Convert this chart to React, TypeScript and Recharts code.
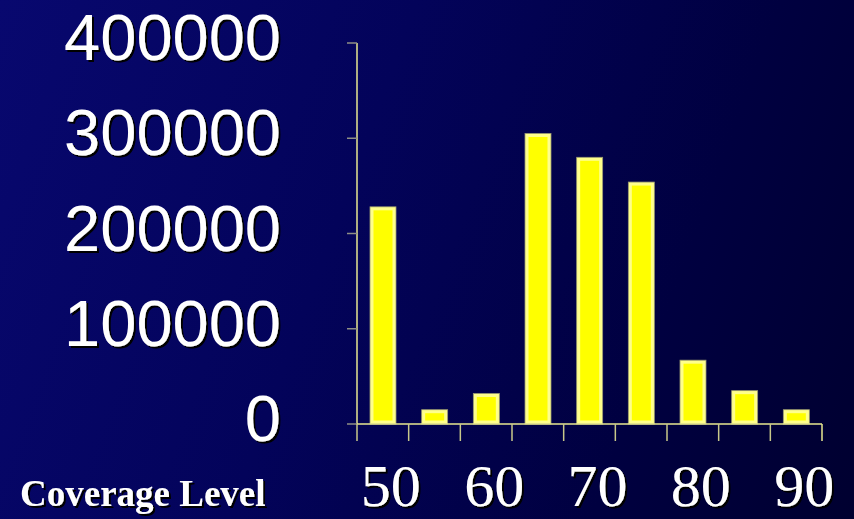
import { Bar, BarChart, XAxis, YAxis } from 'recharts';

const coverageLevels = ['50', '55', '60', '65', '70', '75', '80', '85', '90'];
const counts = [228000, 15000, 32000, 305000, 280000, 254000, 67000, 35000, 15000];
const yTicks = [0, 100000, 200000, 300000, 400000];
const labeledLevels = ['50', '60', '70', '80', '90'];

const chartData = coverageLevels.map((level, i) => ({ level, count: counts[i] }));

const W = 854;
const H = 519;
const AXIS_X = 357;
const PLOT_TOP = 43;
const PLOT_BOTTOM = 424;
const PLOT_RIGHT = 822;
const BAND = (PLOT_RIGHT - AXIS_X) / coverageLevels.length;
const Y_LABEL_RIGHT = 281;

function YTick({ y, payload }: any) {
  return (
    <text
      x={Y_LABEL_RIGHT}
      y={y + 17}
      textAnchor="end"
      fontSize={65}
      fontFamily="Liberation Sans, Arial, sans-serif"
      fill="#ffffff"
      filter="url(#txtShadow)"
    >
      {payload.value}
    </text>
  );
}

function XTick({ x, payload, index }: any) {
  const left = x - BAND / 2;
  const show = labeledLevels.includes(payload.value);
  return (
    <g>
      <line x1={left} x2={left} y1={PLOT_BOTTOM} y2={PLOT_BOTTOM + 17} stroke="#c8c88a" strokeWidth={1.5} />
      {index === coverageLevels.length - 1 && (
        <line x1={left + BAND} x2={left + BAND} y1={PLOT_BOTTOM} y2={PLOT_BOTTOM + 17} stroke="#e8e890" strokeWidth={1.5} />
      )}
      {show && (
        <text
          x={x + 8}
          y={506}
          textAnchor="middle"
          fontSize={60}
          fontFamily="Liberation Serif, Times New Roman, serif"
          fill="#ffffff"
          filter="url(#txtShadow)"
        >
          {payload.value}
        </text>
      )}
    </g>
  );
}

function YellowBar({ x, y, width, height }: any) {
  if (!height || height <= 0) return null;
  const inset = 3.5;
  return (
    <g>
      <rect x={x} y={y} width={width} height={height} fill="#ffff8c" stroke="#9a9a70" strokeWidth={0.8} />
      <rect x={x + inset} y={y + inset} width={Math.max(width - inset * 2, 0)} height={Math.max(height - inset * 2, 0)} fill="#ffff00" />
    </g>
  );
}

export default function App() {
  return (
    <div
      style={{
        position: 'absolute',
        left: 0,
        top: 0,
        width: W,
        height: H,
        overflow: 'hidden',
        background: 'linear-gradient(110deg, #08086f 0%, #03035a 40%, #000040 75%, #000030 100%)',
      }}
    >
      <BarChart
        width={W}
        height={H}
        data={chartData}
        margin={{ top: PLOT_TOP, right: W - PLOT_RIGHT, left: 0, bottom: 0 }}
        barCategoryGap={0}
      >
        <defs>
          <filter id="txtShadow" x="-10%" y="-10%" width="130%" height="130%">
            <feDropShadow dx={2} dy={2} stdDeviation={0.4} floodColor="#000000" floodOpacity={1} />
          </filter>
        </defs>
        <YAxis
          domain={[0, 400000]}
          ticks={yTicks}
          width={AXIS_X}
          interval={0}
          tickSize={10}
          axisLine={{ stroke: '#e8e890', strokeWidth: 1.5 }}
          tickLine={{ stroke: '#8f8f85', strokeWidth: 1.5 }}
          tick={<YTick />}
        />
        <XAxis
          dataKey="level"
          height={H - PLOT_BOTTOM}
          interval={0}
          tickLine={false}
          axisLine={{ stroke: '#e8e890', strokeWidth: 1.5 }}
          tick={<XTick />}
        />
        <Bar dataKey="count" barSize={26} shape={<YellowBar />} isAnimationActive={false} />
        <text
          x={20}
          y={506}
          fontSize={37}
          fontWeight="bold"
          fontFamily="Liberation Serif, Times New Roman, serif"
          fill="#ffffff"
          filter="url(#txtShadow)"
        >
          Coverage Level
        </text>
      </BarChart>
    </div>
  );
}
